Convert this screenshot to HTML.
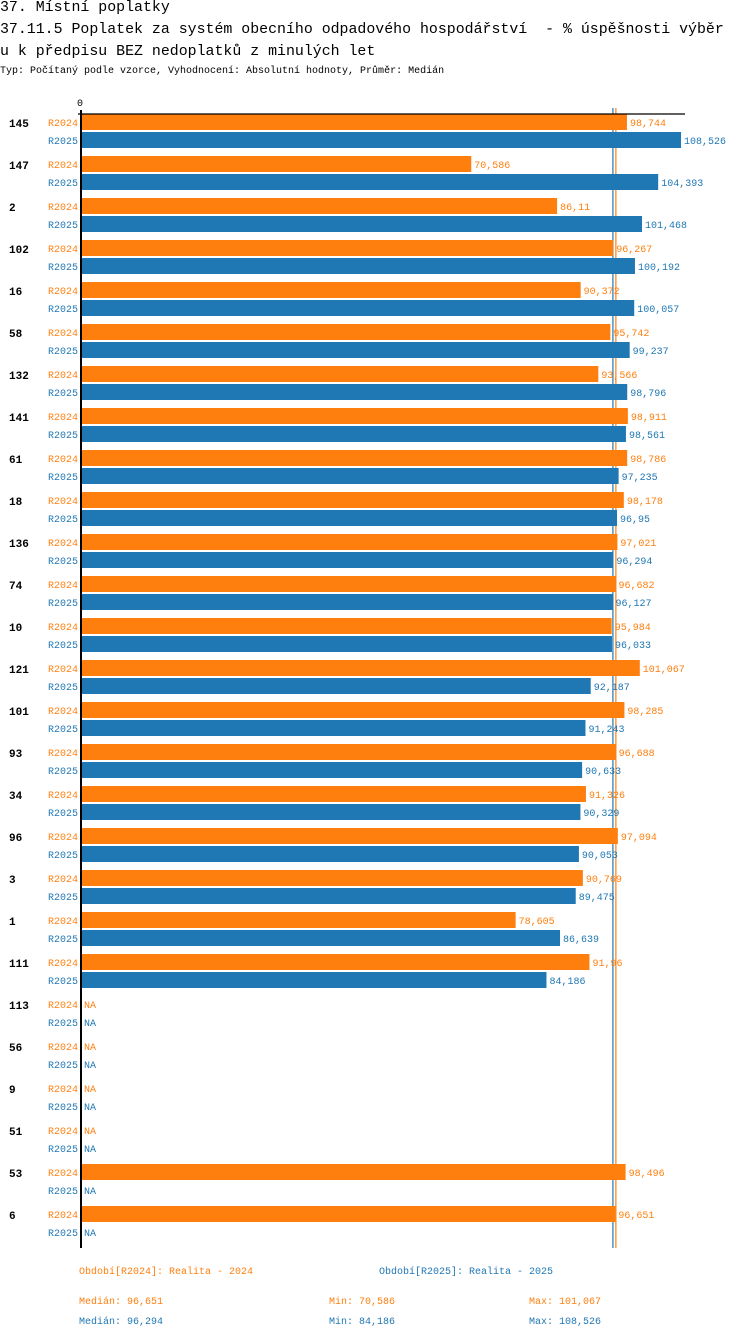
<!DOCTYPE html>
<html><head><meta charset="utf-8"><style>
body{margin:0;background:#fff;width:750px;height:1338px;overflow:hidden;font-family:"Liberation Mono",monospace}
.t{position:absolute;left:0;white-space:pre;font-size:14.9px;color:#000}
</style></head><body>
<div class="t" style="top:0px">37. Místní poplatky</div>
<div class="t" style="top:22px">37.11.5 Poplatek za systém obecního odpadového hospodářství  - % úspěšnosti výběr</div>
<div class="t" style="top:44px">u k předpisu BEZ nedoplatků z minulých let</div>
<div class="t" style="top:66px;font-size:10px">Typ: Počítaný podle vzorce, Vyhodnocení: Absolutní hodnoty, Průměr: Medián</div>
<svg id="c" width="750" height="1338" style="position:absolute;left:0;top:0"></svg>
<script>
const categories=["145","147","2","102","16","58","132","141","61","18","136","74","10","121","101","93","34","96","3","1","111","113","56","9","51","53","6"];
const r2024=[98.744,70.586,86.11,96.267,90.372,95.742,93.566,98.911,98.786,98.178,97.021,96.682,95.984,101.067,98.285,96.688,91.326,97.094,90.769,78.605,91.96,null,null,null,null,98.496,96.651];
const r2025=[108.526,104.393,101.468,100.192,100.057,99.237,98.796,98.561,97.235,96.95,96.294,96.127,96.033,92.187,91.243,90.633,90.329,90.053,89.475,86.639,84.186,null,null,null,null,null,null];
const medians=[96.651,96.294];
const mins=[70.586,84.186];
const maxs=[101.067,108.526];
const OR="#ff7f0e",BL="#1f77b4";
const svg=document.getElementById('c');
const NS="http://www.w3.org/2000/svg";
const x=v=>81+v*5.529;
const fmt=v=>String(v).replace('.',',');
function mk(tag,a,txt){const e=document.createElementNS(NS,tag);for(const k in a)e.setAttribute(k,a[k]);if(txt!=null)e.textContent=txt;svg.appendChild(e);return e;}
const top0=114,pitch=42;
const yEnd=top0+categories.length*pitch;
let m1=mk('line',{x1:x(medians[1])-0.5,x2:x(medians[1])-0.5,y1:108,y2:yEnd,stroke:BL,'stroke-width':1.2});


let m0=mk('line',{x1:x(medians[0])+0.5,x2:x(medians[0])+0.5,y1:108,y2:yEnd,stroke:OR,'stroke-width':1.2});


categories.forEach((c,i)=>{
  const y=top0+i*pitch;
  let e=mk('text',{x:9,y:y+13,'font-size':11,'font-weight':'bold','font-family':'Liberation Mono, monospace',fill:'#000'},c);
  
  
  [[r2024[i],OR,'R2024',0],[r2025[i],BL,'R2025',18]].forEach(([v,col,lab,off])=>{
    const yy=y+off;
    let t=mk('text',{x:78,y:yy+12,'text-anchor':'end','font-size':10,'font-family':'Liberation Mono, monospace',fill:col},lab);
    
    
    if(v==null){
      let n=mk('text',{x:84,y:yy+12,'font-size':10,'font-family':'Liberation Mono, monospace',fill:col},'NA');
      
      
    }else{
      let r=mk('rect',{x:81,y:yy,width:x(v)-81,height:16,fill:col});
      
      
      let n=mk('text',{x:x(v)+3,y:yy+12,'font-size':10,'font-family':'Liberation Mono, monospace',fill:col},fmt(v));
      
      
    }
  });
});
let ax=mk('line',{x1:78,x2:685,y1:114,y2:114,stroke:'#000','stroke-width':1.2});


let ay=mk('line',{x1:81,x2:81,y1:110,y2:yEnd,stroke:'#000','stroke-width':2});


let z=mk('text',{x:80,y:106,'text-anchor':'middle','font-size':10,'font-family':'Liberation Mono, monospace',fill:'#000'},'0');


function lt(xx,yy,col,s,name){let t=mk('text',{x:xx,y:yy,'font-size':10,'font-family':'Liberation Mono, monospace',fill:col},s);}
lt(79,1274,OR,'Období[R2024]: Realita - 2024','legend-r2024');
lt(379,1274,BL,'Období[R2025]: Realita - 2025','legend-r2025');
lt(79,1304,OR,'Medián: '+fmt(medians[0]),'median-r2024');
lt(329,1304,OR,'Min: '+fmt(mins[0]),'min-r2024');
lt(529,1304,OR,'Max: '+fmt(maxs[0]),'max-r2024');
lt(79,1324,BL,'Medián: '+fmt(medians[1]),'median-r2025');
lt(329,1324,BL,'Min: '+fmt(mins[1]),'min-r2025');
lt(529,1324,BL,'Max: '+fmt(maxs[1]),'max-r2025');
</script>
</body></html>
